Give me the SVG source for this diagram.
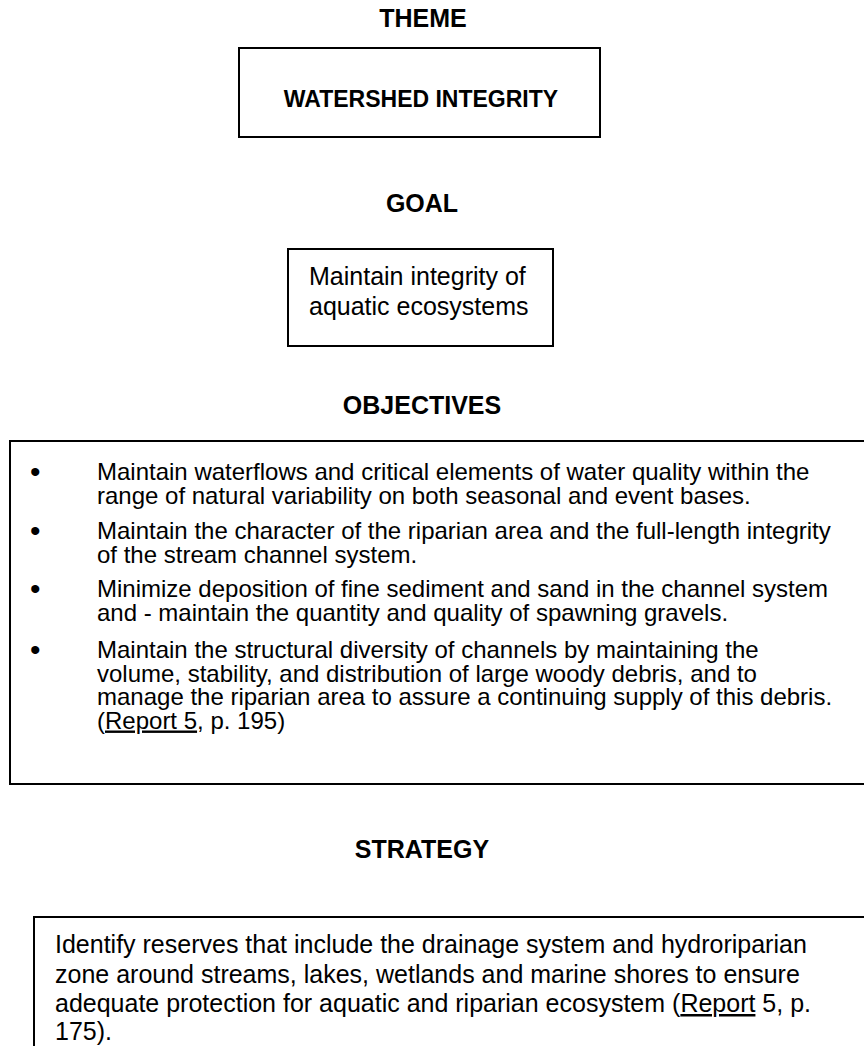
<svg xmlns="http://www.w3.org/2000/svg" width="864" height="1046" viewBox="0 0 864 1046">
<style>
  .head { font-family: "Liberation Sans", Arial, sans-serif; font-weight: bold; font-size: 25px; fill: #000; text-anchor: middle; }
  .body { font-family: "Liberation Sans", Arial, sans-serif; font-size: 24px; fill: #000; }
  .bul { font-family: "Liberation Sans", Arial, sans-serif; font-size: 30px; fill: #000; }
  .strat { font-family: "Liberation Sans", Arial, sans-serif; font-size: 25px; fill: #000; }
  .box { fill: #fff; stroke: #000; stroke-width: 2; }
  .u { text-decoration: underline; }
</style>
<rect width="864" height="1046" fill="#fff"/>

<g id="theme">
  <text class="head" x="423" y="27">THEME</text>
  <rect class="box" x="239" y="48" width="361" height="89"/>
  <text class="head" x="421" y="107" style="font-size:23px">WATERSHED INTEGRITY</text>
</g>

<g id="goal">
  <text class="head" x="422" y="212">GOAL</text>
  <rect class="box" x="288" y="249" width="265" height="97"/>
  <text class="strat" x="309" y="285">Maintain integrity of<tspan x="309" y="315">aquatic ecosystems</tspan></text>
</g>

<g id="objectives">
  <text class="head" x="422" y="414">OBJECTIVES</text>
  <rect class="box" x="10" y="441" width="870" height="343"/>
  <text class="bul" x="30" y="482">•</text>
  <text class="body" x="97" y="480">Maintain waterflows and critical elements of water quality within the<tspan x="97" y="503.5">range of natural variability on both seasonal and event bases.</tspan></text>
  <text class="bul" x="30" y="541">•</text>
  <text class="body" x="97" y="539">Maintain the character of the riparian area and the full-length integrity<tspan x="97" y="563">of the stream channel system.</tspan></text>
  <text class="bul" x="30" y="599">•</text>
  <text class="body" x="97" y="597">Minimize deposition of fine sediment and sand in the channel system<tspan x="97" y="621">and - maintain the quantity and quality of spawning gravels.</tspan></text>
  <text class="bul" x="30" y="660">•</text>
  <text class="body" x="97" y="658">Maintain the structural diversity of channels by maintaining the<tspan x="97" y="681.5">volume, stability, and distribution of large woody debris, and to</tspan><tspan x="97" y="705">manage the riparian area to assure a continuing supply of this debris.</tspan><tspan x="97" y="728.5">(<tspan class="u">Report 5</tspan>, p. 195)</tspan></text>
</g>

<g id="strategy">
  <text class="head" x="422" y="858">STRATEGY</text>
  <rect class="box" x="34" y="917" width="850" height="150"/>
  <text class="strat" x="55" y="953">Identify reserves that include the drainage system and hydroriparian<tspan x="55" y="983">zone around streams, lakes, wetlands and marine shores to ensure</tspan><tspan x="55" y="1012">adequate protection for aquatic and riparian ecosystem (<tspan class="u">Report</tspan> 5, p.</tspan><tspan x="55" y="1040">175).</tspan></text>
</g>

<g id="connectors"></g>
</svg>
